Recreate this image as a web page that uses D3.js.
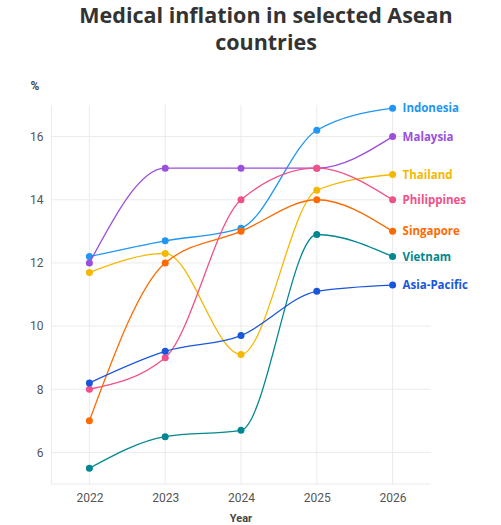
<!DOCTYPE html>
<html><head><meta charset="utf-8">
<script src="https://cdn.jsdelivr.net/npm/d3@7"></script>
<style>body{margin:0;background:#fff;} svg{display:block;}</style>
</head><body>
<svg id="c" width="501" height="525"></svg>
<script>
const years = [2022, 2023, 2024, 2025, 2026];
const seriesNames = ["Indonesia","Malaysia","Thailand","Philippines","Singapore","Vietnam","Asia-Pacific"];
const indonesia = [12.2, 12.7, 13.1, 16.2, 16.9];
const malaysia = [12.0, 15.0, 15.0, 15.0, 16.0];
const thailand = [11.7, 12.3, 9.1, 14.3, 14.8];
const philippines = [8.0, 9.0, 14.0, 15.0, 14.0];
const singapore = [7.0, 12.0, 13.0, 14.0, 13.0];
const vietnam = [5.5, 6.5, 6.7, 12.9, 12.2];
const asiaPacific = [8.2, 9.2, 9.7, 11.1, 11.3];
const yTicks = [6, 8, 10, 12, 14, 16];
const colors = ["#2196f3","#9b4fdc","#f5b800","#f2508a","#ff6a00","#00878f","#1a56db"];
const values = [indonesia, malaysia, thailand, philippines, singapore, vietnam, asiaPacific];

const svg = d3.select("#c");
const x = d3.scaleLinear().domain([2021.5, 2026.5]).range([51.5, 430.5]);
const y = d3.scaleLinear().domain([5, 17]).range([484, 105]);

// grid
const g = svg.append("g");
g.selectAll("line.h").data(yTicks).join("line")
  .attr("x1", x(2021.5)).attr("x2", x(2026.5)).attr("y1", d => y(d)).attr("y2", d => y(d))
  .attr("stroke", "#ebebeb");
g.selectAll("line.v").data(years).join("line")
  .attr("x1", d => x(d)).attr("x2", d => x(d)).attr("y1", y(17)).attr("y2", y(5))
  .attr("stroke", "#ebebeb");
g.append("line").attr("x1", x(2021.5)).attr("x2", x(2021.5)).attr("y1", y(17)).attr("y2", y(5)).attr("stroke", "#ebebeb");
g.append("line").attr("x1", x(2021.5)).attr("x2", x(2026.5)).attr("y1", y(5)).attr("y2", y(5)).attr("stroke", "#ebebeb");

// axes
const yAxis = svg.append("g").attr("transform", `translate(${x(2021.5)},0)`)
  .call(d3.axisLeft(y).tickValues(yTicks).tickSize(0).tickPadding(8));
const xAxis = svg.append("g").attr("transform", `translate(0,${y(5)})`)
  .call(d3.axisBottom(x).tickValues(years).tickFormat(d3.format("d")).tickSize(0).tickPadding(9));
[yAxis, xAxis].forEach(a => {
  a.select(".domain").remove();
  a.selectAll("text").attr("fill", "#555").style("font-family", "Roboto, sans-serif").style("font-size", "12px");
});

svg.append("text").attr("x", 35).attr("y", 90).attr("text-anchor", "middle")
  .attr("fill", "#444").style("font-family", "Roboto, sans-serif").style("font-size", "12px").style("font-weight", "bold").text("%");
svg.append("text").attr("x", x(2024)).attr("y", 522).attr("text-anchor", "middle")
  .attr("fill", "#444").style("font-family", "Roboto, sans-serif").style("font-size", "11px").style("font-weight", "bold").text("Year");

// title
const titleStyle = t => t.attr("text-anchor", "middle").attr("fill", "#333")
  .style("font-family", "'Open Sans', sans-serif").style("font-size", "21.5px").style("font-weight", "bold");
svg.append("text").attr("x", 266).attr("y", 23).call(titleStyle).text("Medical inflation in selected Asean");
svg.append("text").attr("x", 266).attr("y", 50).call(titleStyle).text("countries");

const line = d3.line().x((d, i) => x(years[i])).y(d => y(d)).curve(d3.curveMonotoneX);

seriesNames.forEach((name, k) => {
  const vals = values[k];
  svg.append("path").attr("d", line(vals)).attr("fill", "none")
    .attr("stroke", colors[k]).attr("stroke-width", 1.3);
  svg.append("g").selectAll("circle").data(vals).join("circle")
    .attr("cx", (d, i) => x(years[i])).attr("cy", d => y(d)).attr("r", 3.5).attr("fill", colors[k]);
  svg.append("text").attr("x", x(2026) + 10).attr("y", y(vals[vals.length - 1])).attr("dy", "0.35em")
    .attr("fill", colors[k]).style("font-family", "'Open Sans', sans-serif").style("font-size", "11.5px")
    .style("font-weight", "bold").text(name);
});
</script>
</body></html>
